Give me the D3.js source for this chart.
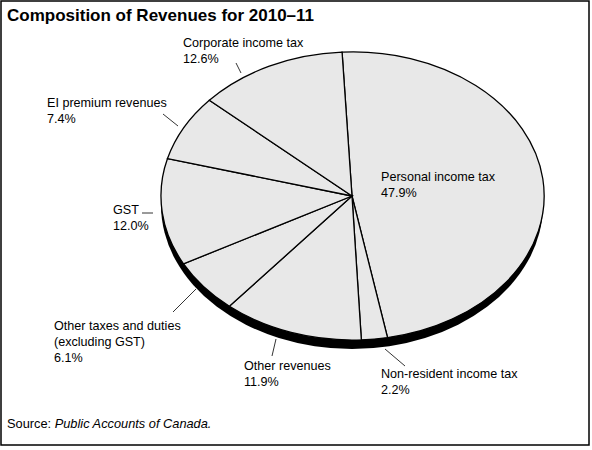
<!DOCTYPE html>
<html><head><meta charset="utf-8">
<script src="https://cdn.jsdelivr.net/npm/d3@7"></script>
<style>
body{margin:0;background:#fff;}
text{font-family:"Liberation Sans",Arial,Helvetica,sans-serif;fill:#000;}
</style></head>
<body><svg id="c" width="592" height="450"></svg>
<script>
const categories = ["Personal income tax","Non-resident income tax","Other revenues","Other taxes and duties (excluding GST)","GST","EI premium revenues","Corporate income tax"];
const values = [47.9, 2.2, 11.9, 6.1, 12.0, 7.4, 12.6];
const labelLines = [
  ["Personal income tax","47.9%"],
  ["Non-resident income tax","2.2%"],
  ["Other revenues","11.9%"],
  ["Other taxes and duties","(excluding GST)","6.1%"],
  ["GST","12.0%"],
  ["EI premium revenues","7.4%"],
  ["Corporate income tax","12.6%"]
];
const title = "Composition of Revenues for 2010–11";

const svg = d3.select("#c");
svg.append("rect").attr("x",1).attr("y",1).attr("width",588).attr("height",444)
  .attr("fill","#fff").attr("stroke","#000").attr("stroke-width",1.5);

svg.append("text").attr("x",7).attr("y",21).attr("font-size",17).attr("font-weight","bold").text(title);

const cx = 352, cy = 196, rx = 191, ry = 144, depth = 9;
const startA = -3 * Math.PI/180;
const pie = d3.pie().sort(null).value(d=>d).startAngle(startA).endAngle(startA + 2*Math.PI);
const arcs = pie(values);
const arc = d3.arc().innerRadius(0).outerRadius(1);

// shadow / depth
svg.append("ellipse").attr("cx",cx).attr("cy",cy+depth).attr("rx",rx).attr("ry",ry).attr("fill","#000");

const g = svg.append("g").attr("transform",`translate(${cx},${cy}) scale(${rx},${ry})`);
g.selectAll("path").data(arcs).join("path")
  .attr("d",arc).attr("fill","#e8e8e8").attr("stroke","#000")
  .attr("stroke-width",1.3).attr("vector-effect","non-scaling-stroke");

// labels
const lab = [
  {x:381,y:181, lines:labelLines[0]},
  {x:381,y:378, lines:labelLines[1], lead:[[385,349],[405,366]]},
  {x:244,y:370, lines:labelLines[2], lead:[[276,339],[272,356]]},
  {x:54,y:330, lines:labelLines[3], lead:[[196,289],[173,312]]},
  {x:113,y:214, lines:labelLines[4], lead:[[142,213],[153,213]]},
  {x:47,y:107, lines:labelLines[5], lead:[[163,114],[178,126]]},
  {x:183,y:47, lines:labelLines[6], lead:[[236,63],[241,73]]}
];
lab.forEach(l=>{
  const t = svg.append("text").attr("x",l.x).attr("y",l.y).attr("font-size",12.6);
  l.lines.forEach((s,i)=>t.append("tspan").attr("x",l.x).attr("dy",i?16:0).text(s));
  if(l.lead) svg.append("line").attr("x1",l.lead[0][0]).attr("y1",l.lead[0][1])
     .attr("x2",l.lead[1][0]).attr("y2",l.lead[1][1]).attr("stroke","#000").attr("stroke-width",0.8);
});

const src = svg.append("text").attr("x",7).attr("y",428).attr("font-size",12.8);
src.append("tspan").text("Source: ");
src.append("tspan").attr("font-style","italic").text("Public Accounts of Canada.");
</script></body></html>
